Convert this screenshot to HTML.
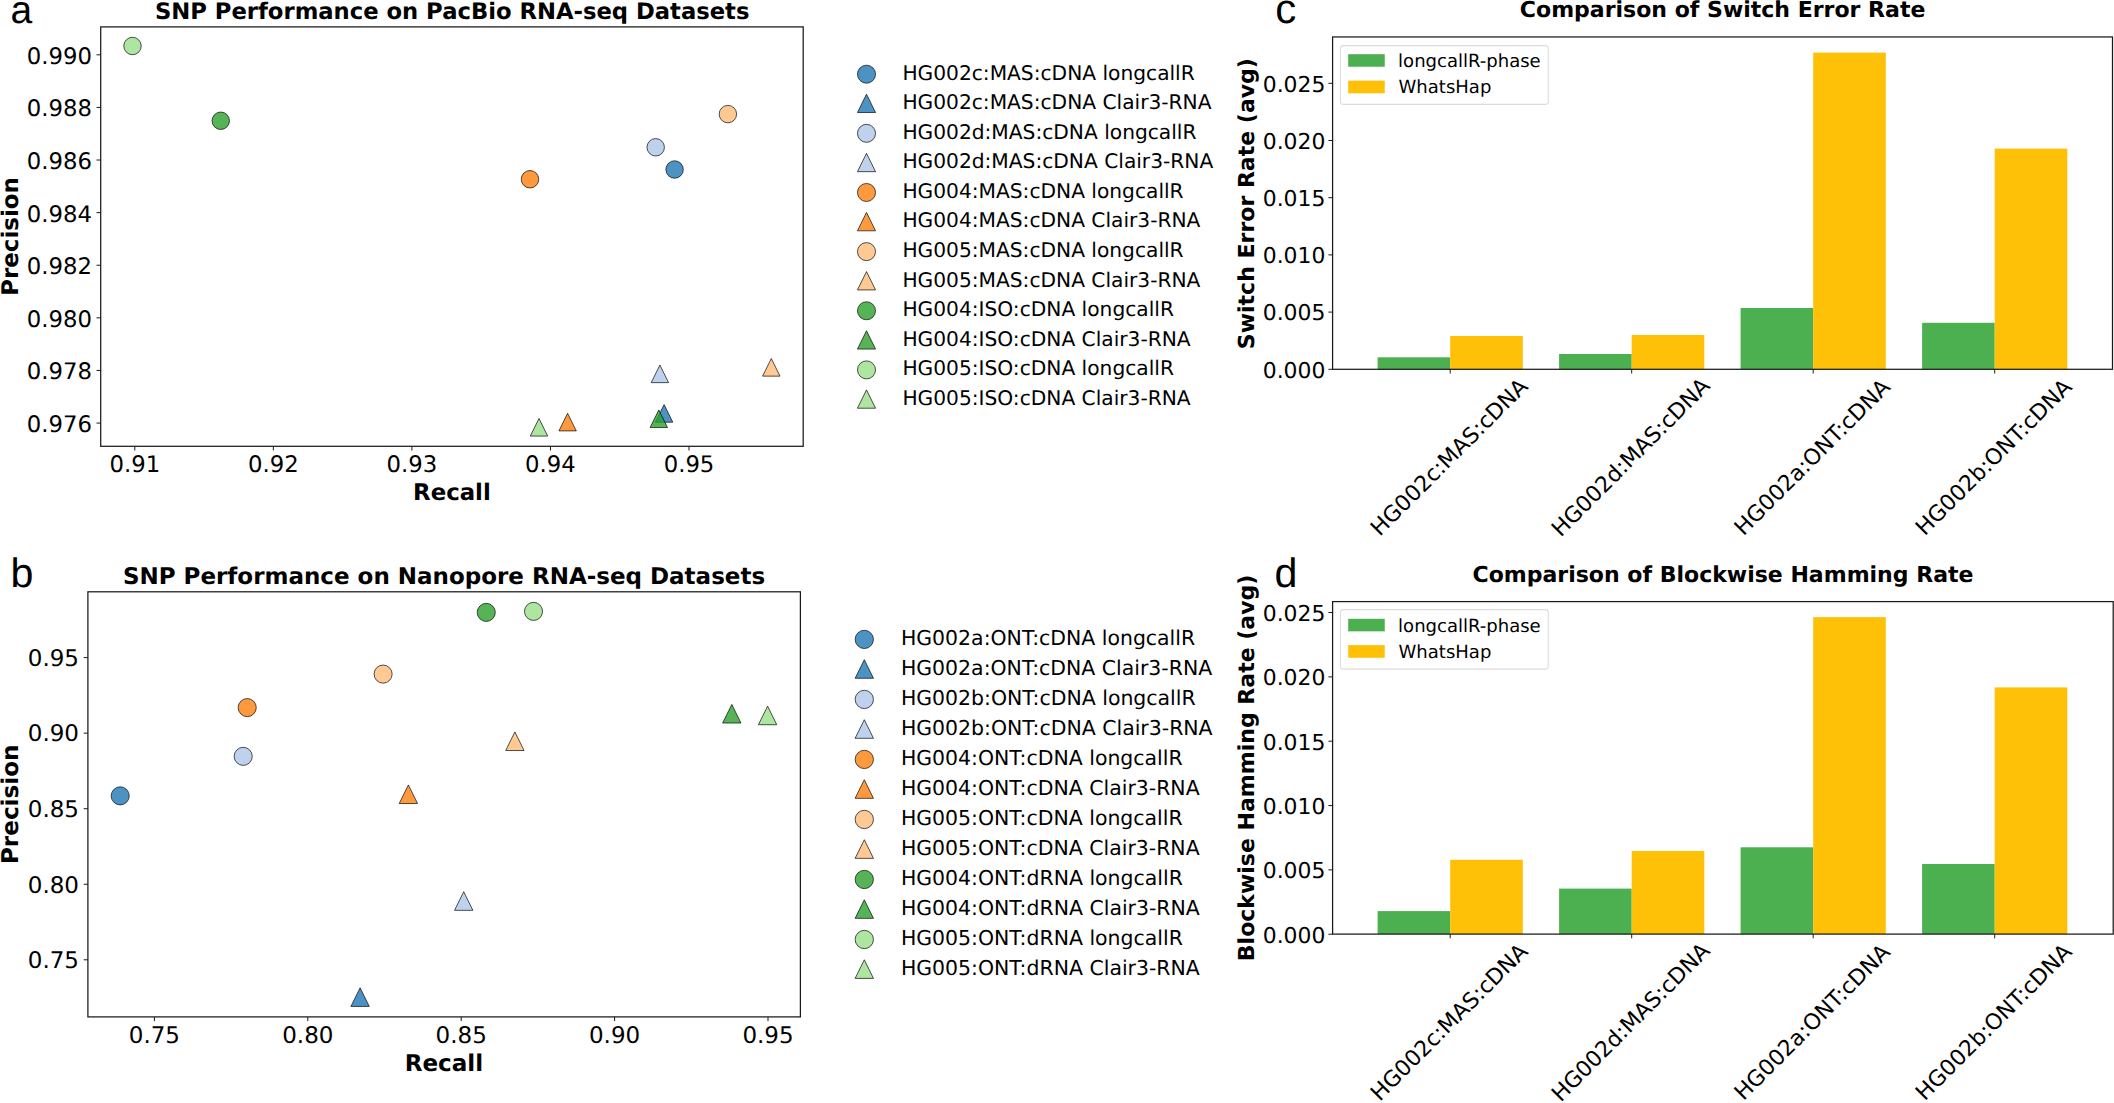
<!DOCTYPE html>
<html lang="en"><head><meta charset="utf-8"><title>Figure</title>
<style>
html,body{margin:0;padding:0;background:#fff;}
body{width:2114px;height:1103px;overflow:hidden;}
svg{display:block;}
text{fill:#000;text-rendering:geometricPrecision;}
.dv{font-family:"DejaVu Sans","Liberation Sans",sans-serif;}
.ar{font-family:"Liberation Sans",sans-serif;}
</style></head><body>
<svg width="2114" height="1103" viewBox="0 0 2114 1103">
<rect width="2114" height="1103" fill="#fff"/>
<text class="ar" x="10.6" y="23" font-size="39" text-anchor="start">a</text>
<text class="dv" x="452.2" y="19.1" font-size="22.7" font-weight="bold" text-anchor="middle">SNP Performance on PacBio RNA-seq Datasets</text>
<circle cx="674.6" cy="169.5" r="8.72" fill="#1f77b4" fill-opacity="0.8" stroke="#000" stroke-opacity="0.8" stroke-width="0.85"/>
<path d="M664.1 404.57L655.41 422.19L672.79 422.19Z" fill="#1f77b4" fill-opacity="0.8" stroke="#000" stroke-opacity="0.8" stroke-width="0.85" stroke-linejoin="miter"/>
<circle cx="655.7" cy="147.3" r="8.72" fill="#aec7e8" fill-opacity="0.8" stroke="#000" stroke-opacity="0.8" stroke-width="0.85"/>
<path d="M659.9 365.02L651.21 382.64L668.59 382.64Z" fill="#aec7e8" fill-opacity="0.8" stroke="#000" stroke-opacity="0.8" stroke-width="0.85" stroke-linejoin="miter"/>
<circle cx="530" cy="179.25" r="8.72" fill="#ff7f0e" fill-opacity="0.8" stroke="#000" stroke-opacity="0.8" stroke-width="0.85"/>
<path d="M567.6 413.27L558.91 430.89L576.29 430.89Z" fill="#ff7f0e" fill-opacity="0.8" stroke="#000" stroke-opacity="0.8" stroke-width="0.85" stroke-linejoin="miter"/>
<circle cx="727.9" cy="114.1" r="8.72" fill="#ffbb78" fill-opacity="0.8" stroke="#000" stroke-opacity="0.8" stroke-width="0.85"/>
<path d="M771.3 358.52L762.61 376.14L779.99 376.14Z" fill="#ffbb78" fill-opacity="0.8" stroke="#000" stroke-opacity="0.8" stroke-width="0.85" stroke-linejoin="miter"/>
<circle cx="220.75" cy="120.75" r="8.72" fill="#2ca02c" fill-opacity="0.8" stroke="#000" stroke-opacity="0.8" stroke-width="0.85"/>
<path d="M658.8 409.92L650.11 427.54L667.49 427.54Z" fill="#2ca02c" fill-opacity="0.8" stroke="#000" stroke-opacity="0.8" stroke-width="0.85" stroke-linejoin="miter"/>
<circle cx="132.5" cy="46" r="8.72" fill="#98df8a" fill-opacity="0.8" stroke="#000" stroke-opacity="0.8" stroke-width="0.85"/>
<path d="M539 418.47L530.31 436.09L547.69 436.09Z" fill="#98df8a" fill-opacity="0.8" stroke="#000" stroke-opacity="0.8" stroke-width="0.85" stroke-linejoin="miter"/>
<rect x="100.7" y="26.9" width="702.5" height="419.4" fill="none" stroke="#1a1a1a" stroke-width="1.25"/>
<line x1="96.5" y1="54.8" x2="100.7" y2="54.8" stroke="#1a1a1a" stroke-width="1.0"/>
<text class="dv" x="91.9" y="63.8" font-size="22.75" text-anchor="end">0.990</text>
<line x1="96.5" y1="107.41" x2="100.7" y2="107.41" stroke="#1a1a1a" stroke-width="1.0"/>
<text class="dv" x="91.9" y="116.41" font-size="22.75" text-anchor="end">0.988</text>
<line x1="96.5" y1="160.02" x2="100.7" y2="160.02" stroke="#1a1a1a" stroke-width="1.0"/>
<text class="dv" x="91.9" y="169.02" font-size="22.75" text-anchor="end">0.986</text>
<line x1="96.5" y1="212.63" x2="100.7" y2="212.63" stroke="#1a1a1a" stroke-width="1.0"/>
<text class="dv" x="91.9" y="221.63" font-size="22.75" text-anchor="end">0.984</text>
<line x1="96.5" y1="265.24" x2="100.7" y2="265.24" stroke="#1a1a1a" stroke-width="1.0"/>
<text class="dv" x="91.9" y="274.24" font-size="22.75" text-anchor="end">0.982</text>
<line x1="96.5" y1="317.85" x2="100.7" y2="317.85" stroke="#1a1a1a" stroke-width="1.0"/>
<text class="dv" x="91.9" y="326.85" font-size="22.75" text-anchor="end">0.980</text>
<line x1="96.5" y1="370.46" x2="100.7" y2="370.46" stroke="#1a1a1a" stroke-width="1.0"/>
<text class="dv" x="91.9" y="379.46" font-size="22.75" text-anchor="end">0.978</text>
<line x1="96.5" y1="423.07" x2="100.7" y2="423.07" stroke="#1a1a1a" stroke-width="1.0"/>
<text class="dv" x="91.9" y="432.07" font-size="22.75" text-anchor="end">0.976</text>
<line x1="134.8" y1="446.3" x2="134.8" y2="450.5" stroke="#1a1a1a" stroke-width="1.0"/>
<text class="dv" x="134.8" y="472.4" font-size="22.75" text-anchor="middle">0.91</text>
<line x1="273.35" y1="446.3" x2="273.35" y2="450.5" stroke="#1a1a1a" stroke-width="1.0"/>
<text class="dv" x="273.35" y="472.4" font-size="22.75" text-anchor="middle">0.92</text>
<line x1="411.9" y1="446.3" x2="411.9" y2="450.5" stroke="#1a1a1a" stroke-width="1.0"/>
<text class="dv" x="411.9" y="472.4" font-size="22.75" text-anchor="middle">0.93</text>
<line x1="550.45" y1="446.3" x2="550.45" y2="450.5" stroke="#1a1a1a" stroke-width="1.0"/>
<text class="dv" x="550.45" y="472.4" font-size="22.75" text-anchor="middle">0.94</text>
<line x1="689" y1="446.3" x2="689" y2="450.5" stroke="#1a1a1a" stroke-width="1.0"/>
<text class="dv" x="689" y="472.4" font-size="22.75" text-anchor="middle">0.95</text>
<text class="dv" x="451.9" y="499.6" font-size="22.85" font-weight="bold" text-anchor="middle">Recall</text>
<text class="dv" x="17.7" y="236.5" font-size="22.9" font-weight="bold" text-anchor="middle" transform="rotate(-90 17.7 236.5)">Precision</text>
<circle cx="866.5" cy="74.2" r="9.02" fill="#1f77b4" fill-opacity="0.8" stroke="#000" stroke-opacity="0.8" stroke-width="0.85"/>
<text class="dv" x="902.4" y="79.55" font-size="20.2" text-anchor="start">HG002c:MAS:cDNA longcallR</text>
<path d="M866.5 94.17L857.45 112.52L875.55 112.52Z" fill="#1f77b4" fill-opacity="0.8" stroke="#000" stroke-opacity="0.8" stroke-width="0.85" stroke-linejoin="miter"/>
<text class="dv" x="902.4" y="109.12" font-size="20.2" text-anchor="start">HG002c:MAS:cDNA Clair3-RNA</text>
<circle cx="866.5" cy="133.34" r="9.02" fill="#aec7e8" fill-opacity="0.8" stroke="#000" stroke-opacity="0.8" stroke-width="0.85"/>
<text class="dv" x="902.4" y="138.69" font-size="20.2" text-anchor="start">HG002d:MAS:cDNA longcallR</text>
<path d="M866.5 153.31L857.45 171.66L875.55 171.66Z" fill="#aec7e8" fill-opacity="0.8" stroke="#000" stroke-opacity="0.8" stroke-width="0.85" stroke-linejoin="miter"/>
<text class="dv" x="902.4" y="168.26" font-size="20.2" text-anchor="start">HG002d:MAS:cDNA Clair3-RNA</text>
<circle cx="866.5" cy="192.48" r="9.02" fill="#ff7f0e" fill-opacity="0.8" stroke="#000" stroke-opacity="0.8" stroke-width="0.85"/>
<text class="dv" x="902.4" y="197.83" font-size="20.2" text-anchor="start">HG004:MAS:cDNA longcallR</text>
<path d="M866.5 212.45L857.45 230.8L875.55 230.8Z" fill="#ff7f0e" fill-opacity="0.8" stroke="#000" stroke-opacity="0.8" stroke-width="0.85" stroke-linejoin="miter"/>
<text class="dv" x="902.4" y="227.4" font-size="20.2" text-anchor="start">HG004:MAS:cDNA Clair3-RNA</text>
<circle cx="866.5" cy="251.62" r="9.02" fill="#ffbb78" fill-opacity="0.8" stroke="#000" stroke-opacity="0.8" stroke-width="0.85"/>
<text class="dv" x="902.4" y="256.97" font-size="20.2" text-anchor="start">HG005:MAS:cDNA longcallR</text>
<path d="M866.5 271.59L857.45 289.94L875.55 289.94Z" fill="#ffbb78" fill-opacity="0.8" stroke="#000" stroke-opacity="0.8" stroke-width="0.85" stroke-linejoin="miter"/>
<text class="dv" x="902.4" y="286.54" font-size="20.2" text-anchor="start">HG005:MAS:cDNA Clair3-RNA</text>
<circle cx="866.5" cy="310.76" r="9.02" fill="#2ca02c" fill-opacity="0.8" stroke="#000" stroke-opacity="0.8" stroke-width="0.85"/>
<text class="dv" x="902.4" y="316.11" font-size="20.2" text-anchor="start">HG004:ISO:cDNA longcallR</text>
<path d="M866.5 330.73L857.45 349.08L875.55 349.08Z" fill="#2ca02c" fill-opacity="0.8" stroke="#000" stroke-opacity="0.8" stroke-width="0.85" stroke-linejoin="miter"/>
<text class="dv" x="902.4" y="345.68" font-size="20.2" text-anchor="start">HG004:ISO:cDNA Clair3-RNA</text>
<circle cx="866.5" cy="369.9" r="9.02" fill="#98df8a" fill-opacity="0.8" stroke="#000" stroke-opacity="0.8" stroke-width="0.85"/>
<text class="dv" x="902.4" y="375.25" font-size="20.2" text-anchor="start">HG005:ISO:cDNA longcallR</text>
<path d="M866.5 389.87L857.45 408.22L875.55 408.22Z" fill="#98df8a" fill-opacity="0.8" stroke="#000" stroke-opacity="0.8" stroke-width="0.85" stroke-linejoin="miter"/>
<text class="dv" x="902.4" y="404.82" font-size="20.2" text-anchor="start">HG005:ISO:cDNA Clair3-RNA</text>
<text class="ar" x="10.6" y="586.7" font-size="41.2" text-anchor="start">b</text>
<text class="dv" x="444" y="583.8" font-size="23.0" font-weight="bold" text-anchor="middle">SNP Performance on Nanopore RNA-seq Datasets</text>
<circle cx="120.2" cy="795.85" r="9.05" fill="#1f77b4" fill-opacity="0.8" stroke="#000" stroke-opacity="0.8" stroke-width="0.85"/>
<path d="M360.1 987.81L350.92 1006.43L369.29 1006.43Z" fill="#1f77b4" fill-opacity="0.8" stroke="#000" stroke-opacity="0.8" stroke-width="0.85" stroke-linejoin="miter"/>
<circle cx="243.2" cy="756.35" r="9.05" fill="#aec7e8" fill-opacity="0.8" stroke="#000" stroke-opacity="0.8" stroke-width="0.85"/>
<path d="M463.7 891.71L454.51 910.33L472.88 910.33Z" fill="#aec7e8" fill-opacity="0.8" stroke="#000" stroke-opacity="0.8" stroke-width="0.85" stroke-linejoin="miter"/>
<circle cx="247.2" cy="707.6" r="9.05" fill="#ff7f0e" fill-opacity="0.8" stroke="#000" stroke-opacity="0.8" stroke-width="0.85"/>
<path d="M408.4 784.91L399.21 803.53L417.58 803.53Z" fill="#ff7f0e" fill-opacity="0.8" stroke="#000" stroke-opacity="0.8" stroke-width="0.85" stroke-linejoin="miter"/>
<circle cx="383.1" cy="674.1" r="9.05" fill="#ffbb78" fill-opacity="0.8" stroke="#000" stroke-opacity="0.8" stroke-width="0.85"/>
<path d="M514.9 731.91L505.71 750.53L524.08 750.53Z" fill="#ffbb78" fill-opacity="0.8" stroke="#000" stroke-opacity="0.8" stroke-width="0.85" stroke-linejoin="miter"/>
<circle cx="486.25" cy="612.4" r="9.05" fill="#2ca02c" fill-opacity="0.8" stroke="#000" stroke-opacity="0.8" stroke-width="0.85"/>
<path d="M731.8 704.41L722.62 723.03L740.98 723.03Z" fill="#2ca02c" fill-opacity="0.8" stroke="#000" stroke-opacity="0.8" stroke-width="0.85" stroke-linejoin="miter"/>
<circle cx="533.5" cy="611.4" r="9.05" fill="#98df8a" fill-opacity="0.8" stroke="#000" stroke-opacity="0.8" stroke-width="0.85"/>
<path d="M767.6 706.11L758.42 724.73L776.78 724.73Z" fill="#98df8a" fill-opacity="0.8" stroke="#000" stroke-opacity="0.8" stroke-width="0.85" stroke-linejoin="miter"/>
<rect x="87.9" y="591.8" width="712.5" height="425.1" fill="none" stroke="#1a1a1a" stroke-width="1.25"/>
<line x1="83.7" y1="657.6" x2="87.9" y2="657.6" stroke="#1a1a1a" stroke-width="1.0"/>
<text class="dv" x="79" y="665.9" font-size="23.0" text-anchor="end">0.95</text>
<line x1="83.7" y1="733.15" x2="87.9" y2="733.15" stroke="#1a1a1a" stroke-width="1.0"/>
<text class="dv" x="79" y="741.45" font-size="23.0" text-anchor="end">0.90</text>
<line x1="83.7" y1="808.7" x2="87.9" y2="808.7" stroke="#1a1a1a" stroke-width="1.0"/>
<text class="dv" x="79" y="817" font-size="23.0" text-anchor="end">0.85</text>
<line x1="83.7" y1="884.25" x2="87.9" y2="884.25" stroke="#1a1a1a" stroke-width="1.0"/>
<text class="dv" x="79" y="892.55" font-size="23.0" text-anchor="end">0.80</text>
<line x1="83.7" y1="959.8" x2="87.9" y2="959.8" stroke="#1a1a1a" stroke-width="1.0"/>
<text class="dv" x="79" y="968.1" font-size="23.0" text-anchor="end">0.75</text>
<line x1="154.4" y1="1016.9" x2="154.4" y2="1021.1" stroke="#1a1a1a" stroke-width="1.0"/>
<text class="dv" x="154.4" y="1043.3" font-size="23.0" text-anchor="middle">0.75</text>
<line x1="307.8" y1="1016.9" x2="307.8" y2="1021.1" stroke="#1a1a1a" stroke-width="1.0"/>
<text class="dv" x="307.8" y="1043.3" font-size="23.0" text-anchor="middle">0.80</text>
<line x1="461.2" y1="1016.9" x2="461.2" y2="1021.1" stroke="#1a1a1a" stroke-width="1.0"/>
<text class="dv" x="461.2" y="1043.3" font-size="23.0" text-anchor="middle">0.85</text>
<line x1="614.6" y1="1016.9" x2="614.6" y2="1021.1" stroke="#1a1a1a" stroke-width="1.0"/>
<text class="dv" x="614.6" y="1043.3" font-size="23.0" text-anchor="middle">0.90</text>
<line x1="768" y1="1016.9" x2="768" y2="1021.1" stroke="#1a1a1a" stroke-width="1.0"/>
<text class="dv" x="768" y="1043.3" font-size="23.0" text-anchor="middle">0.95</text>
<text class="dv" x="443.95" y="1070.6" font-size="23.1" font-weight="bold" text-anchor="middle">Recall</text>
<text class="dv" x="17.7" y="804.3" font-size="23.1" font-weight="bold" text-anchor="middle" transform="rotate(-90 17.7 804.3)">Precision</text>
<circle cx="864.3" cy="639.4" r="9.15" fill="#1f77b4" fill-opacity="0.8" stroke="#000" stroke-opacity="0.8" stroke-width="0.85"/>
<text class="dv" x="900.9" y="644.75" font-size="20.45" text-anchor="start">HG002a:ONT:cDNA longcallR</text>
<path d="M864.3 659.67L855.12 678.29L873.48 678.29Z" fill="#1f77b4" fill-opacity="0.8" stroke="#000" stroke-opacity="0.8" stroke-width="0.85" stroke-linejoin="miter"/>
<text class="dv" x="900.9" y="674.76" font-size="20.45" text-anchor="start">HG002a:ONT:cDNA Clair3-RNA</text>
<circle cx="864.3" cy="699.42" r="9.15" fill="#aec7e8" fill-opacity="0.8" stroke="#000" stroke-opacity="0.8" stroke-width="0.85"/>
<text class="dv" x="900.9" y="704.77" font-size="20.45" text-anchor="start">HG002b:ONT:cDNA longcallR</text>
<path d="M864.3 719.69L855.12 738.31L873.48 738.31Z" fill="#aec7e8" fill-opacity="0.8" stroke="#000" stroke-opacity="0.8" stroke-width="0.85" stroke-linejoin="miter"/>
<text class="dv" x="900.9" y="734.78" font-size="20.45" text-anchor="start">HG002b:ONT:cDNA Clair3-RNA</text>
<circle cx="864.3" cy="759.44" r="9.15" fill="#ff7f0e" fill-opacity="0.8" stroke="#000" stroke-opacity="0.8" stroke-width="0.85"/>
<text class="dv" x="900.9" y="764.79" font-size="20.45" text-anchor="start">HG004:ONT:cDNA longcallR</text>
<path d="M864.3 779.71L855.12 798.33L873.48 798.33Z" fill="#ff7f0e" fill-opacity="0.8" stroke="#000" stroke-opacity="0.8" stroke-width="0.85" stroke-linejoin="miter"/>
<text class="dv" x="900.9" y="794.8" font-size="20.45" text-anchor="start">HG004:ONT:cDNA Clair3-RNA</text>
<circle cx="864.3" cy="819.46" r="9.15" fill="#ffbb78" fill-opacity="0.8" stroke="#000" stroke-opacity="0.8" stroke-width="0.85"/>
<text class="dv" x="900.9" y="824.81" font-size="20.45" text-anchor="start">HG005:ONT:cDNA longcallR</text>
<path d="M864.3 839.73L855.12 858.35L873.48 858.35Z" fill="#ffbb78" fill-opacity="0.8" stroke="#000" stroke-opacity="0.8" stroke-width="0.85" stroke-linejoin="miter"/>
<text class="dv" x="900.9" y="854.82" font-size="20.45" text-anchor="start">HG005:ONT:cDNA Clair3-RNA</text>
<circle cx="864.3" cy="879.48" r="9.15" fill="#2ca02c" fill-opacity="0.8" stroke="#000" stroke-opacity="0.8" stroke-width="0.85"/>
<text class="dv" x="900.9" y="884.83" font-size="20.45" text-anchor="start">HG004:ONT:dRNA longcallR</text>
<path d="M864.3 899.75L855.12 918.37L873.48 918.37Z" fill="#2ca02c" fill-opacity="0.8" stroke="#000" stroke-opacity="0.8" stroke-width="0.85" stroke-linejoin="miter"/>
<text class="dv" x="900.9" y="914.84" font-size="20.45" text-anchor="start">HG004:ONT:dRNA Clair3-RNA</text>
<circle cx="864.3" cy="939.5" r="9.15" fill="#98df8a" fill-opacity="0.8" stroke="#000" stroke-opacity="0.8" stroke-width="0.85"/>
<text class="dv" x="900.9" y="944.85" font-size="20.45" text-anchor="start">HG005:ONT:dRNA longcallR</text>
<path d="M864.3 959.77L855.12 978.39L873.48 978.39Z" fill="#98df8a" fill-opacity="0.8" stroke="#000" stroke-opacity="0.8" stroke-width="0.85" stroke-linejoin="miter"/>
<text class="dv" x="900.9" y="974.86" font-size="20.45" text-anchor="start">HG005:ONT:dRNA Clair3-RNA</text>
<text class="ar" x="1275.3" y="23.2" font-size="42" text-anchor="start">c</text>
<text class="dv" x="1722.6" y="17" font-size="22.03" font-weight="bold" text-anchor="middle">Comparison of Switch Error Rate</text>
<rect x="1377.6" y="357.3" width="72.6" height="12" fill="#4caf50"/>
<rect x="1450.2" y="336" width="72.6" height="33.3" fill="#ffc107"/>
<rect x="1559.1" y="354" width="72.6" height="15.3" fill="#4caf50"/>
<rect x="1631.7" y="335" width="72.6" height="34.3" fill="#ffc107"/>
<rect x="1740.6" y="308" width="72.6" height="61.3" fill="#4caf50"/>
<rect x="1813.2" y="52.6" width="72.6" height="316.7" fill="#ffc107"/>
<rect x="1922.1" y="322.8" width="72.6" height="46.5" fill="#4caf50"/>
<rect x="1994.7" y="148.6" width="72.6" height="220.7" fill="#ffc107"/>
<rect x="1332.6" y="36.95" width="779.9" height="332.35" fill="none" stroke="#1a1a1a" stroke-width="1.25"/>
<line x1="1328.4" y1="369.3" x2="1332.6" y2="369.3" stroke="#1a1a1a" stroke-width="1.0"/>
<text class="dv" x="1325.4" y="377.6" font-size="21.9" text-anchor="end">0.000</text>
<line x1="1328.4" y1="312.1" x2="1332.6" y2="312.1" stroke="#1a1a1a" stroke-width="1.0"/>
<text class="dv" x="1325.4" y="320.4" font-size="21.9" text-anchor="end">0.005</text>
<line x1="1328.4" y1="254.9" x2="1332.6" y2="254.9" stroke="#1a1a1a" stroke-width="1.0"/>
<text class="dv" x="1325.4" y="263.2" font-size="21.9" text-anchor="end">0.010</text>
<line x1="1328.4" y1="197.7" x2="1332.6" y2="197.7" stroke="#1a1a1a" stroke-width="1.0"/>
<text class="dv" x="1325.4" y="206" font-size="21.9" text-anchor="end">0.015</text>
<line x1="1328.4" y1="140.5" x2="1332.6" y2="140.5" stroke="#1a1a1a" stroke-width="1.0"/>
<text class="dv" x="1325.4" y="148.8" font-size="21.9" text-anchor="end">0.020</text>
<line x1="1328.4" y1="83.3" x2="1332.6" y2="83.3" stroke="#1a1a1a" stroke-width="1.0"/>
<text class="dv" x="1325.4" y="91.6" font-size="21.9" text-anchor="end">0.025</text>
<line x1="1450.2" y1="369.3" x2="1450.2" y2="373.5" stroke="#1a1a1a" stroke-width="1.0"/>
<line x1="1631.7" y1="369.3" x2="1631.7" y2="373.5" stroke="#1a1a1a" stroke-width="1.0"/>
<line x1="1813.2" y1="369.3" x2="1813.2" y2="373.5" stroke="#1a1a1a" stroke-width="1.0"/>
<line x1="1994.7" y1="369.3" x2="1994.7" y2="373.5" stroke="#1a1a1a" stroke-width="1.0"/>
<text class="dv" font-size="22" text-anchor="middle" transform="translate(1448.8 456.75) rotate(-45)" x="0" y="8">HG002c:MAS:cDNA</text>
<text class="dv" font-size="22" text-anchor="middle" transform="translate(1630.3 456.75) rotate(-45)" x="0" y="8">HG002d:MAS:cDNA</text>
<text class="dv" font-size="22" text-anchor="middle" transform="translate(1811.8 456.75) rotate(-45)" x="0" y="8">HG002a:ONT:cDNA</text>
<text class="dv" font-size="22" text-anchor="middle" transform="translate(1993.3 456.75) rotate(-45)" x="0" y="8">HG002b:ONT:cDNA</text>
<text class="dv" x="1254.1" y="203.6" font-size="22.03" font-weight="bold" text-anchor="middle" transform="rotate(-90 1254.1 203.6)">Switch Error Rate (avg)</text>
<rect x="1340.4" y="45.6" width="207.9" height="58.8" rx="3.2" fill="#fff" stroke="#dcdcdc" stroke-width="1.05"/>
<rect x="1348.2" y="54.2" width="36.55" height="12.55" fill="#4caf50"/>
<rect x="1348.2" y="80.6" width="36.55" height="12.7" fill="#ffc107"/>
<text class="dv" x="1398.1" y="66.7" font-size="18.05" text-anchor="start">longcallR-phase</text>
<text class="dv" x="1398.5" y="93.4" font-size="18.05" text-anchor="start">WhatsHap</text>
<text class="ar" x="1274.6" y="586.7" font-size="41.2" text-anchor="start">d</text>
<text class="dv" x="1723" y="581.8" font-size="22.03" font-weight="bold" text-anchor="middle">Comparison of Blockwise Hamming Rate</text>
<rect x="1377.6" y="911.1" width="72.6" height="23" fill="#4caf50"/>
<rect x="1450.2" y="859.8" width="72.6" height="74.3" fill="#ffc107"/>
<rect x="1559.1" y="888.6" width="72.6" height="45.5" fill="#4caf50"/>
<rect x="1631.7" y="851" width="72.6" height="83.1" fill="#ffc107"/>
<rect x="1740.6" y="847.3" width="72.6" height="86.8" fill="#4caf50"/>
<rect x="1813.2" y="617.1" width="72.6" height="317" fill="#ffc107"/>
<rect x="1922.1" y="864" width="72.6" height="70.1" fill="#4caf50"/>
<rect x="1994.7" y="687.4" width="72.6" height="246.7" fill="#ffc107"/>
<rect x="1332.6" y="601.6" width="780.6" height="332.5" fill="none" stroke="#1a1a1a" stroke-width="1.25"/>
<line x1="1328.4" y1="934.2" x2="1332.6" y2="934.2" stroke="#1a1a1a" stroke-width="1.0"/>
<text class="dv" x="1325.4" y="942.5" font-size="21.9" text-anchor="end">0.000</text>
<line x1="1328.4" y1="869.87" x2="1332.6" y2="869.87" stroke="#1a1a1a" stroke-width="1.0"/>
<text class="dv" x="1325.4" y="878.17" font-size="21.9" text-anchor="end">0.005</text>
<line x1="1328.4" y1="805.54" x2="1332.6" y2="805.54" stroke="#1a1a1a" stroke-width="1.0"/>
<text class="dv" x="1325.4" y="813.84" font-size="21.9" text-anchor="end">0.010</text>
<line x1="1328.4" y1="741.21" x2="1332.6" y2="741.21" stroke="#1a1a1a" stroke-width="1.0"/>
<text class="dv" x="1325.4" y="749.51" font-size="21.9" text-anchor="end">0.015</text>
<line x1="1328.4" y1="676.88" x2="1332.6" y2="676.88" stroke="#1a1a1a" stroke-width="1.0"/>
<text class="dv" x="1325.4" y="685.18" font-size="21.9" text-anchor="end">0.020</text>
<line x1="1328.4" y1="612.55" x2="1332.6" y2="612.55" stroke="#1a1a1a" stroke-width="1.0"/>
<text class="dv" x="1325.4" y="620.85" font-size="21.9" text-anchor="end">0.025</text>
<line x1="1450.2" y1="934.1" x2="1450.2" y2="938.3" stroke="#1a1a1a" stroke-width="1.0"/>
<line x1="1631.7" y1="934.1" x2="1631.7" y2="938.3" stroke="#1a1a1a" stroke-width="1.0"/>
<line x1="1813.2" y1="934.1" x2="1813.2" y2="938.3" stroke="#1a1a1a" stroke-width="1.0"/>
<line x1="1994.7" y1="934.1" x2="1994.7" y2="938.3" stroke="#1a1a1a" stroke-width="1.0"/>
<text class="dv" font-size="22" text-anchor="middle" transform="translate(1448.8 1021.7) rotate(-45)" x="0" y="8">HG002c:MAS:cDNA</text>
<text class="dv" font-size="22" text-anchor="middle" transform="translate(1630.3 1021.7) rotate(-45)" x="0" y="8">HG002d:MAS:cDNA</text>
<text class="dv" font-size="22" text-anchor="middle" transform="translate(1811.8 1021.7) rotate(-45)" x="0" y="8">HG002a:ONT:cDNA</text>
<text class="dv" font-size="22" text-anchor="middle" transform="translate(1993.3 1021.7) rotate(-45)" x="0" y="8">HG002b:ONT:cDNA</text>
<text class="dv" x="1254.1" y="767.9" font-size="22.03" font-weight="bold" text-anchor="middle" transform="rotate(-90 1254.1 767.9)">Blockwise Hamming Rate (avg)</text>
<rect x="1340.4" y="609.6" width="207.9" height="59.5" rx="3.2" fill="#fff" stroke="#dcdcdc" stroke-width="1.05"/>
<rect x="1348.2" y="618.8" width="36.55" height="12.55" fill="#4caf50"/>
<rect x="1348.2" y="645.1" width="36.55" height="12.7" fill="#ffc107"/>
<text class="dv" x="1398.1" y="631.5" font-size="18.05" text-anchor="start">longcallR-phase</text>
<text class="dv" x="1398.5" y="657.8" font-size="18.05" text-anchor="start">WhatsHap</text>
</svg>
</body></html>
